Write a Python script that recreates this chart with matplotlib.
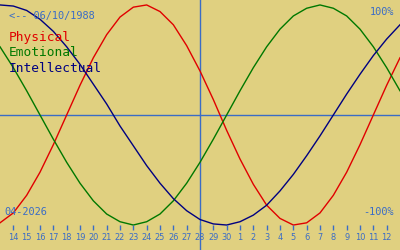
import matplotlib
matplotlib.use("Agg")
import matplotlib.pyplot as plt
import matplotlib.transforms as mtransforms

# day offsets from the first labelled day (14 April), one extra day each side
days = list(range(-1, 30))
day_labels = [14, 15, 16, 17, 18, 19, 20, 21, 22, 23, 24, 25, 26, 27, 28, 29, 30,
              1, 2, 3, 4, 5, 6, 7, 8, 9, 10, 11, 12]
today = 14

physical = [-0.98, -0.89, -0.73, -0.52, -0.27, 0.00, 0.27, 0.52, 0.73, 0.89, 0.98,
            1.00, 0.94, 0.82, 0.63, 0.40, 0.14, -0.14, -0.40, -0.63, -0.82, -0.94,
            -1.00, -0.98, -0.89, -0.73, -0.52, -0.27, 0.00, 0.27, 0.52]
emotional = [0.62, 0.43, 0.22, 0.00, -0.22, -0.43, -0.62, -0.78, -0.90, -0.97, -1.00,
             -0.97, -0.90, -0.78, -0.62, -0.43, -0.22, 0.00, 0.22, 0.43, 0.62, 0.78,
             0.90, 0.97, 1.00, 0.97, 0.90, 0.78, 0.62, 0.43, 0.22]
intellectual = [1.00, 0.99, 0.95, 0.87, 0.76, 0.62, 0.46, 0.28, 0.10, -0.10, -0.28,
                -0.46, -0.62, -0.76, -0.87, -0.95, -0.99, -1.00, -0.97, -0.91, -0.82,
                -0.69, -0.54, -0.37, -0.19, 0.00, 0.19, 0.37, 0.54, 0.69, 0.82]

bg = "#e0d080"
blue = "#3a6cc6"
mono = "DejaVu Sans Mono"

fig = plt.figure(figsize=(4, 2.5), dpi=100, facecolor=bg)
ax = fig.add_axes([0, 0, 1, 1], facecolor=bg)
ax.set_xlim(-1, 29)
ax.set_ylim(-1.227, 1.045)
ax.axis("off")

ax.axhline(0, color=blue, lw=1.0)
ax.axvline(today, color=blue, lw=1.0)

ax.plot(days, physical, color="#e00000", lw=1.0)
ax.plot(days, emotional, color="#007800", lw=1.0)
ax.plot(days, intellectual, color="#000080", lw=1.0)

# ticks and day numbers along the bottom
trans = mtransforms.blended_transform_factory(ax.transData, ax.transAxes)
ticks = list(range(len(day_labels)))
ax.vlines(ticks, 1 - 230 / 250, 1 - 225 / 250, transform=trans, color=blue, lw=1.0)
for t, lab in zip(ticks, day_labels):
    ax.text(t, 1 - 237.5 / 250, str(lab), transform=trans, ha="center", va="center",
            fontsize=6.6, family="DejaVu Sans", fontstretch="condensed", color=blue)


def px(x, y):
    return x / 400, 1 - y / 250


fig.text(*px(9, 16), "<-- 06/10/1988", ha="left", va="center",
         fontsize=7.4, family=mono, color=blue)
fig.text(*px(394, 12), "100%", ha="right", va="center",
         fontsize=7.4, family=mono, color=blue)
fig.text(*px(394, 212), "-100%", ha="right", va="center",
         fontsize=7.4, family=mono, color=blue)
fig.text(*px(4, 212), "04-2026", ha="left", va="center",
         fontsize=7.4, family=mono, color=blue)

fig.text(*px(9, 38), "Physical", ha="left", va="center",
         fontsize=9.3, family=mono, color="#e00000")
fig.text(*px(9, 53), "Emotional", ha="left", va="center",
         fontsize=9.3, family=mono, color="#007800")
fig.text(*px(9, 69), "Intellectual", ha="left", va="center",
         fontsize=9.3, family=mono, color="#000080")

fig.savefig("out.png", dpi=100, facecolor=bg)
